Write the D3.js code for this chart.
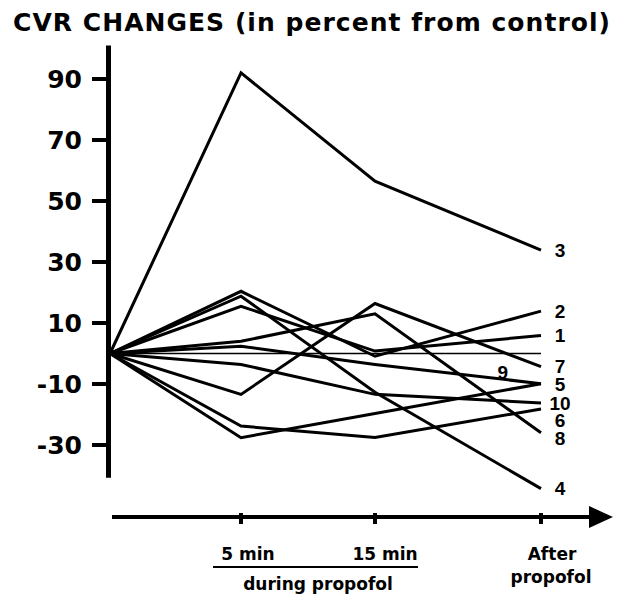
<!DOCTYPE html>
<html>
<head>
<meta charset="utf-8">
<script src="https://cdn.jsdelivr.net/npm/d3@7"></script>
<style>
	body { margin: 0; background: #fff; }
	svg { display: block; }
	.big { font-family: 'DejaVu Sans', sans-serif; font-weight: bold; }
	.num { font-family: 'Liberation Sans', Arial, sans-serif; font-weight: bold; }
</style>
</head>
<body>
<div id="chart"></div>
<script>
var categories = ['control', '5 min', '15 min', 'After propofol'];
var yTicks = [90, 70, 50, 30, 10, -10, -30];
var patients = ['1', '2', '3', '4', '5', '6', '7', '8', '9', '10'];
// CVR change in percent from control, one array per patient
var cvr1 = [0, 15.5, 0.8, 5.9];
var cvr2 = [0, 20.4, -0.9, 13.9];
var cvr3 = [0, 92, 56.5, 33.9];
var cvr4 = [0, 18.8, -12.7, -44.3];
var cvr5 = [0, -27.6, -19.7, -9.9];
var cvr6 = [0, -23.8, -27.5, -18.2];
var cvr7 = [0, -13.4, 16.4, -4.3];
var cvr8 = [0, 4, 13, -26];
var cvr9 = [0, 2.4, -3.6, -9.9];
var cvr10 = [0, -3.6, -13.4, -16.2];
var series = [cvr1, cvr2, cvr3, cvr4, cvr5, cvr6, cvr7, cvr8, cvr9, cvr10];

var width = 626, height = 601;
var svg = d3.select('#chart').append('svg')
	.attr('width', width)
	.attr('height', height);

var x = d3.scaleOrdinal().domain(categories).range([110, 241, 375, 541]);
var y = d3.scaleLinear().domain([-30, 90]).range([445, 79]);

// title
svg.append('text')
	.attr('class', 'big')
	.attr('x', 13)
	.attr('y', 31)
	.attr('font-size', 25)
	.attr('textLength', 597)
	.attr('lengthAdjust', 'spacing')
	.text('CVR CHANGES (in percent from control)');

// y axis
var axisX = 108.5;
svg.append('line')
	.attr('x1', axisX).attr('x2', axisX)
	.attr('y1', y(101)).attr('y2', y(-40.7))
	.attr('stroke', '#000')
	.attr('stroke-width', 5);
var yt = svg.append('g').selectAll('g').data(yTicks).enter().append('g');
yt.append('line')
	.attr('x1', 92).attr('x2', axisX)
	.attr('y1', function(d) { return y(d); })
	.attr('y2', function(d) { return y(d); })
	.attr('stroke', '#000')
	.attr('stroke-width', 4);
yt.append('text')
	.attr('class', 'big')
	.attr('x', 82)
	.attr('y', function(d) { return y(d); })
	.attr('dy', '0.36em')
	.attr('text-anchor', 'end')
	.attr('font-size', 25)
	.text(function(d) { return d; });

// x axis arrow
var axisY = 517;
svg.append('line')
	.attr('x1', 112).attr('x2', 595)
	.attr('y1', axisY).attr('y2', axisY)
	.attr('stroke', '#000')
	.attr('stroke-width', 4);
svg.append('path')
	.attr('d', 'M589,' + (axisY - 11) + 'L613,' + axisY + 'L589,' + (axisY + 11) + 'Z')
	.attr('fill', '#000');
svg.append('g').selectAll('rect').data(categories.slice(1)).enter().append('rect')
	.attr('x', function(d) { return x(d) - 2; })
	.attr('y', axisY - 4)
	.attr('width', 4)
	.attr('height', 11)
	.attr('fill', '#000');

// x labels
var bottom = svg.append('g').attr('class', 'big').attr('font-size', 17).attr('text-anchor', 'middle');
bottom.append('text').attr('x', 248).attr('y', 560).text(categories[1]);
bottom.append('text').attr('x', 385).attr('y', 560).text(categories[2]);
bottom.append('line')
	.attr('x1', 213).attr('x2', 418)
	.attr('y1', 567).attr('y2', 567)
	.attr('stroke', '#000').attr('stroke-width', 2);
bottom.append('text').attr('x', 318).attr('y', 590).text('during propofol');
bottom.append('text').attr('x', 552).attr('y', 560).text('After');
bottom.append('text').attr('x', 551).attr('y', 583).text('propofol');

// zero reference line
svg.append('line')
	.attr('x1', x(categories[0])).attr('x2', x(categories[3]))
	.attr('y1', y(0)).attr('y2', y(0))
	.attr('stroke', '#000')
	.attr('stroke-width', 1.6);

// patient lines
var line = d3.line()
	.x(function(d, i) { return x(categories[i]); })
	.y(function(d) { return y(d); });
svg.append('g').selectAll('path').data(series).enter().append('path')
	.attr('d', line)
	.attr('fill', 'none')
	.attr('stroke', '#000')
	.attr('stroke-width', 3)
	.attr('stroke-linejoin', 'miter');

// end labels, pushed apart so they do not overlap
var midLabel = '9';
var ends = patients.map(function(p, i) {
	return { name: p, y: y(series[i][3]) };
}).filter(function(d) { return d.name !== midLabel; })
	.sort(function(a, b) { return a.y - b.y; });
for(var i = 1; i < ends.length; i++) {
	if(ends[i].y < ends[i - 1].y + 17.5) ends[i].y = ends[i - 1].y + 17.5;
}
svg.append('g').attr('class', 'num').attr('font-size', 19).attr('text-anchor', 'middle')
	.selectAll('text').data(ends).enter().append('text')
	.attr('x', 560)
	.attr('y', function(d) { return d.y; })
	.attr('dy', '0.36em')
	.text(function(d) { return d.name; });

// label 9 sits on its line
var s9 = series[patients.indexOf(midLabel)];
var t = 0.77;
var lx = x(categories[2]) + t * (x(categories[3]) - x(categories[2]));
var ly = y(s9[2]) + t * (y(s9[3]) - y(s9[2]));
svg.append('text')
	.attr('class', 'num')
	.attr('font-size', 19)
	.attr('text-anchor', 'middle')
	.attr('x', lx)
	.attr('y', ly - 7)
	.attr('dy', '0.36em')
	.text(midLabel);
</script>
</body>
</html>
